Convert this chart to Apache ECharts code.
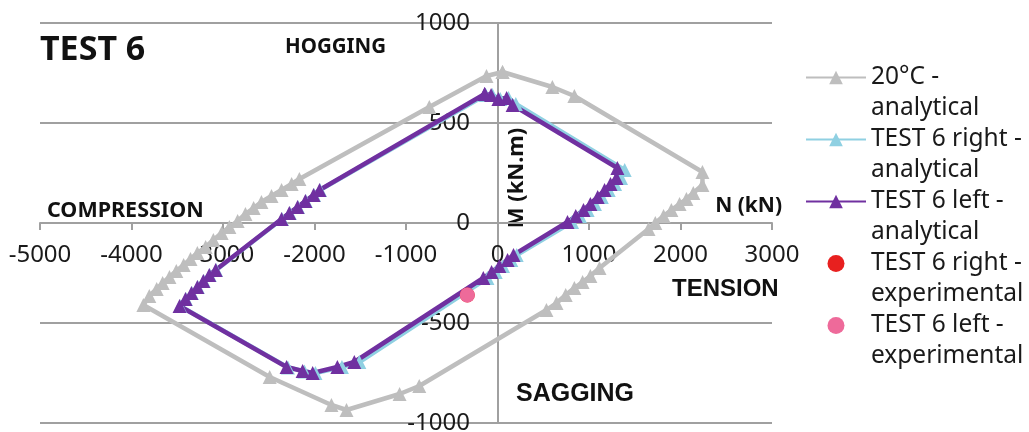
<!DOCTYPE html>
<html><head><meta charset="utf-8">
<script src="https://cdn.jsdelivr.net/npm/echarts@6/dist/echarts.min.js"></script>
<style>html,body{margin:0;padding:0;background:#fff}#c{width:1029px;height:432px}</style>
</head><body><div id="c"></div><script>
// Data: [N (kN), M (kN.m)]
const seriesNames = ['20°C - analytical', 'TEST 6 right - analytical', 'TEST 6 left - analytical', 'TEST 6 right - experimental', 'TEST 6 left - experimental'];
const xTicks = { min: -5000, max: 3000, step: 1000 };
const yTicks = { min: -1000, max: 1000, step: 500 };

const gray20C = [[55,755],[600,680],[840,635],[2240,255],[2240,190],[2140,150],[2065,120],[1990,95],[1900,65],[1815,35],[1725,0],[1650,-30],[1115,-225],[1015,-265],[930,-295],[840,-325],[745,-360],[645,-400],[535,-435],[-855,-815],[-1070,-855],[-1650,-935],[-1815,-910],[-2490,-770],[-3870,-410],[-3805,-365],[-3725,-330],[-3660,-300],[-3585,-270],[-3510,-240],[-3430,-210],[-3355,-180],[-3280,-150],[-3190,-120],[-3105,-85],[-3015,-50],[-2930,-20],[-2840,10],[-2755,45],[-2665,75],[-2580,105],[-2470,135],[-2360,165],[-2250,195],[-2165,220],[-745,580],[-120,735],[55,755]];

const test6Right = [[-130,640],[-55,640],[30,620],[120,625],[200,595],[1390,265],[1350,225],[1285,195],[1215,165],[1140,130],[1065,95],[985,65],[900,35],[815,5],[210,-160],[150,-185],[60,-215],[-20,-245],[-110,-275],[-1510,-695],[-1700,-720],[-1990,-750],[-2110,-742],[-2290,-722],[-3470,-415],[-3405,-380],[-3340,-350],[-3275,-320],[-3210,-290],[-3145,-260],[-3075,-235],[-2355,20],[-2270,50],[-2180,80],[-2095,110],[-2005,140],[-1940,165],[-130,640]];

const test6Left = [[-140,645],[-70,640],[10,620],[100,625],[165,590],[1310,275],[1300,225],[1235,195],[1170,165],[1095,130],[1015,95],[940,65],[855,35],[765,5],[175,-160],[110,-185],[20,-215],[-65,-245],[-155,-275],[-1565,-695],[-1750,-720],[-2020,-750],[-2130,-740],[-2305,-720],[-3475,-415],[-3410,-380],[-3345,-350],[-3280,-320],[-3215,-290],[-3150,-260],[-3080,-235],[-2360,20],[-2275,50],[-2185,80],[-2100,110],[-2010,140],[-1945,165],[-140,645]];

const expRight = [[-330,-360]];
const expLeft = [[-330,-360]];

const colors = ['#bebebe', '#8fd0e2', '#7030a0', '#e8201f', '#ee6a9a'];

const chart = echarts.init(document.getElementById('c'), null, { renderer: 'canvas' });
const lineSeries = (name, data, color) => ({
  name, type: 'line', data, symbol: 'triangle', symbolSize: 14, showSymbol: true,
  lineStyle: { color, width: 4.5 }, itemStyle: { color }, z: 2, animation: false
});
const dotSeries = (name, data, color) => ({
  name, type: 'scatter', data, symbol: 'circle', symbolSize: 15,
  itemStyle: { color, opacity: 1 }, z: 3, animation: false
});

const labelFont = 'Noto Sans';
const plain = v => String(v);
chart.setOption({
  animation: false,
  color: colors,
  grid: { left: 40, right: 257, top: 23, bottom: 9, containLabel: false, outerBoundsMode: 'none' },
  xAxis: {
    type: 'value', min: xTicks.min, max: xTicks.max, interval: xTicks.step,
    position: 'bottom', offset: -200,
    axisLine: { onZero: false, lineStyle: { color: '#a0a0a0', width: 2 } },
    axisTick: { show: true, length: 7, lineStyle: { color: '#a0a0a0', width: 2 } },
    axisLabel: { color: '#1a1a1a', fontSize: 24, fontFamily: labelFont, margin: 20, formatter: plain },
    splitLine: { show: false },
    name: 'N (kN)', nameLocation: 'end', nameGap: 10,
    nameTextStyle: { align: 'right', verticalAlign: 'bottom', fontSize: 21, fontWeight: 'bold', fontFamily: labelFont, color: '#111', padding: [0, 0, 6, 0] }
  },
  yAxis: {
    type: 'value', min: yTicks.min, max: yTicks.max, interval: yTicks.step,
    position: 'left', offset: -458,
    axisLine: { onZero: false, lineStyle: { color: '#a0a0a0', width: 2 } },
    axisTick: { show: false },
    axisLabel: { color: '#1a1a1a', fontSize: 24, fontFamily: labelFont, margin: 28, formatter: plain },
    splitLine: { show: true, lineStyle: { color: '#a0a0a0', width: 2 } }
  },
  legend: {
    orient: 'vertical', left: 805, top: 31, padding: 0,
    itemWidth: 60, itemHeight: 17, itemGap: -31,
    data: seriesNames,
    formatter: n => ' \n' + n.replace(' - ', ' -\n'),
    textStyle: { fontSize: 24.5, fontFamily: labelFont, color: '#1a1a1a', lineHeight: 31 }
  },
  graphic: [
    { type: 'text', x: 40, y: 50, style: { text: 'TEST 6', font: 'bold 34px "Noto Sans"', fill: '#111', align: 'left', verticalAlign: 'middle' } },
    { type: 'text', x: 285, y: 47, style: { text: 'HOGGING', font: 'bold 20.5px "Noto Sans"', fill: '#111', align: 'left', verticalAlign: 'middle' } },
    { type: 'text', x: 47, y: 211, style: { text: 'COMPRESSION', font: 'bold 21.5px "Noto Sans"', fill: '#111', align: 'left', verticalAlign: 'middle' } },
    { type: 'text', x: 672, y: 289, style: { text: 'TENSION', font: 'bold 24px "Liberation Sans"', fill: '#111', align: 'left', verticalAlign: 'middle' } },
    { type: 'text', x: 516, y: 394, style: { text: 'SAGGING', font: 'bold 25px "Liberation Sans"', fill: '#111', align: 'left', verticalAlign: 'middle' } },
    { type: 'text', x: 517, y: 178, rotation: Math.PI / 2, style: { text: 'M (kN.m)', font: 'bold 22px "Noto Sans"', fill: '#111', align: 'center', verticalAlign: 'middle' } }
  ],
  series: [
    lineSeries(seriesNames[0], gray20C, colors[0]),
    lineSeries(seriesNames[1], test6Right, colors[1]),
    lineSeries(seriesNames[2], test6Left, colors[2]),
    dotSeries(seriesNames[3], expRight, colors[3]),
    dotSeries(seriesNames[4], expLeft, colors[4])
  ]
});
</script></body></html>
